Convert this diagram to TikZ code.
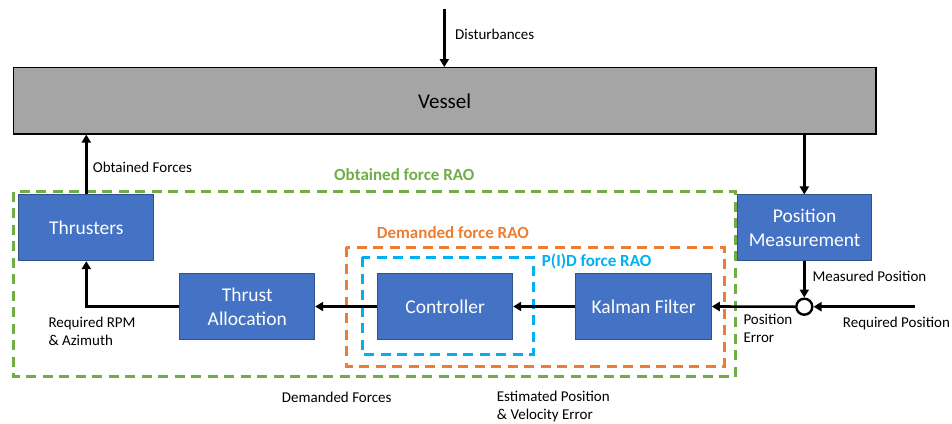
\documentclass[tikz,border=0pt]{standalone}
\usepackage{fontspec}
\setmainfont{Carlito}
\usetikzlibrary{arrows.meta,calc}
\definecolor{boxblue}{HTML}{4472C4}
\definecolor{boxedge}{HTML}{2F528F}
\definecolor{vgray}{HTML}{A5A5A5}
\definecolor{raogreen}{HTML}{70AD47}
\definecolor{raoorange}{HTML}{ED7D31}
\definecolor{raocyan}{HTML}{00B0F0}
\tikzset{
  blk/.style={draw=boxedge, line width=1pt, fill=boxblue, text=white, minimum width=134.7pt, minimum height=65.7pt, inner sep=0pt, align=center, font=\fontsize{19.5}{24}\selectfont},
  vesselbox/.style={draw=black, line width=1.2pt, fill=vgray, minimum width=862.7pt, minimum height=66.3pt, inner sep=0pt, font=\fontsize{21}{24}\selectfont},
  arr/.style={draw=black, line width=2.6pt, -{Triangle[length=8pt,width=9pt]}},
  lbl/.style={anchor=west, inner sep=0pt, align=left, font=\fontsize{15}{18}\selectfont},
  raolbl/.style={anchor=west, inner sep=0pt, font=\bfseries\fontsize{17}{20}\selectfont},
  raobox/.style={line width=3pt, dash pattern=on 10pt off 6.5pt},
  sumpt/.style={circle, draw=black, line width=2.4pt, fill=white, minimum size=16pt, inner sep=0pt}
}
\begin{document}
\begin{tikzpicture}[x=1pt,y=-1pt]
\useasboundingbox (0,0) rectangle (952,423);
% RAO boxes
\draw[raobox, draw=raogreen] (13.3,191.7) rectangle (735.7,376.7);
\draw[raobox, draw=raoorange] (346,247) rectangle (724,366);
\draw[raobox, draw=raocyan] (362.3,257.3) rectangle (533.3,354.3);
\node[raolbl, text=raogreen] (lgreen) at (334,174.7) {Obtained force RAO};
\node[raolbl, text=raoorange] (lorange) at (376.7,232.3) {Demanded force RAO};
\node[raolbl, text=raocyan] (lcyan) at (541.7,261.7) {P(I)D force RAO};
% blocks
\node[vesselbox] (ves) at (444.7,100.8) {Vessel};
\node[blk] (thr) at (86.3,227.8) {Thrusters};
\node[blk] (ta) at (247.3,306.5) {Thrust\\Allocation};
\node[blk, minimum width=135pt] (ctl) at (445.2,306.5) {Controller};
\node[blk, minimum width=135.3pt] (kf) at (643.6,306.5) {Kalman Filter};
\node[blk] (pm) at (804.6,227.8) {Position\\Measurement};
\node[sumpt] (sum) at (804.3,306.7) {};
\coordinate (dist) at (444.3,9.3);
\coordinate (reqp) at (915,306.7);
% connectors
\draw[arr] (dist) -- (dist |- ves.north);
\draw[arr] (thr.north) -- (thr.north |- ves.south);
\draw[arr] (sum.north |- ves.south) -- (sum.north |- pm.north);
\draw[arr] (sum.north |- pm.south) -- (sum.north);
\draw[arr] (reqp) -- (sum.east);
\draw[arr] (sum.west) -- (kf.east);
\draw[arr] (kf.west) -- (ctl.east);
\draw[arr] (ctl.west) -- (ta.west -| ta.east);
\draw[arr] (ta.west) -| (thr.south);
% labels
\node[lbl] (ldist) at (455,34.3) {Disturbances};
\node[lbl] (lobt) at (92.7,167) {Obtained Forces};
\node[lbl] (lrpm) at (48.3,331.2) {Required RPM\\\&~Azimuth};
\node[lbl] (ldem) at (281.7,397.3) {Demanded Forces};
\node[lbl] (lest) at (496.7,406.3) {Estimated Position\\\&~Velocity Error};
\node[lbl] (lmeas) at (812.3,276) {Measured Position};
\node[lbl] (lperr) at (743.3,328.3) {Position\\Error};
\node[lbl] (lreq) at (842.7,323.3) {Required Position};
\end{tikzpicture}
\end{document}
